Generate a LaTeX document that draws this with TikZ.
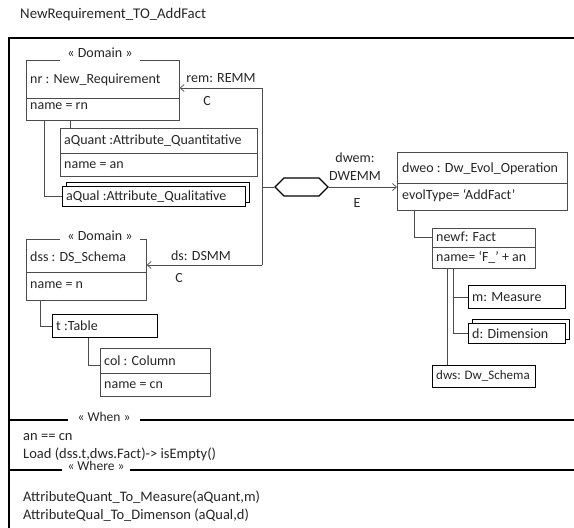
\documentclass[tikz,border=0pt]{standalone}
\usepackage{fontspec}
\setmainfont{Carlito}
\usetikzlibrary{arrows.meta,shapes.symbols}

\tikzset{
  obj/.style={draw=black!70, line width=0.7pt, anchor=north west, inner sep=0pt},
  objthick/.style={draw=black, line width=1.4pt, anchor=north west, inner sep=0pt, fill=white},
  txt/.style={anchor=west, inner sep=0pt, text=black!85, font=\fontsize{14}{16}\selectfont},
  small/.style={txt, font=\fontsize{14.5}{16}\selectfont},
  stereo/.style={fill=white, inner sep=0pt, minimum height=16pt, text=black!85, font=\fontsize{14}{16}\selectfont},
  link/.style={draw=black!70, line width=0.7pt},
  flow/.style={link, -{Straight Barb[length=4pt,width=7pt]}},
  frame/.style={draw=black, line width=1.5pt}
}

\begin{document}
\begin{tikzpicture}[x=1pt,y=-1pt]
\useasboundingbox (0,0) rectangle (574,528);

\node[txt, font=\fontsize{14.8}{17}\selectfont] (title) at (20,15) {NewRequirement\_TO\_AddFact};
\draw[frame] (574,38) -- (9,38) -- (9,528);

\node[obj, minimum width=153pt, minimum height=60pt] (nr) at (26,60) {};
\draw[link] ([yshift=-38pt]nr.north west) -- ([yshift=-38pt]nr.north east);
\node[stereo, minimum width=80pt] (dom1) at (100,53) {« Domain »};
\node[txt] (nrname) at (30,80) {nr : New\_Requirement};
\node[txt] (nrattr) at (30,106) {name = rn};

\node[obj, minimum width=197pt, minimum height=48pt] (aQuant) at (60,128) {};
\draw[link] ([yshift=-25pt]aQuant.north west) -- ([yshift=-25pt]aQuant.north east);
\node[txt] (aQuantname) at (64,141) {aQuant :Attribute\_Quantitative};
\node[txt] (aQuantattr) at (64,165) {name = an};

\node[objthick, minimum width=183pt, minimum height=20pt] (aQualback) at (66,182) {};
\node[objthick, minimum width=183pt, minimum height=20pt] (aQual) at (62,186) {};
\node[txt] (aQualname) at (66,197) {aQual :Attribute\_Qualitative};

\draw[link] ([xshift=44pt]nr.south west) -- ([xshift=10pt]aQuant.north west);
\draw[link] ([xshift=18pt]nr.south west) |- (aQual.west);

\node[obj, minimum width=120pt, minimum height=61pt] (dss) at (26,239) {};
\draw[link] ([yshift=-33pt]dss.north west) -- ([yshift=-33pt]dss.north east);
\node[stereo, minimum width=80pt] (dom2) at (100,236) {« Domain »};
\node[txt] (dssname) at (30,258) {dss : DS\_Schema};
\node[txt] (dssattr) at (30,285) {name = n};

\node[objthick, minimum width=105pt, minimum height=23pt] (tab) at (52,314) {};
\node[txt] (tabname) at (56,326) {t :Table};

\node[obj, minimum width=110pt, minimum height=48pt] (col) at (100,348) {};
\draw[link] ([yshift=-25pt]col.north west) -- ([yshift=-25pt]col.north east);
\node[txt] (colname) at (104,361) {col : Column};
\node[txt] (colattr) at (104,385) {name = cn};

\draw[link] ([xshift=14pt]dss.south west) |- (tab.west);
\draw[link] ([xshift=36pt]tab.south west) |- ([yshift=-17pt]col.north west);

\coordinate (remc) at (262,88);
\coordinate (opc) at (262,187);
\coordinate (dsc) at (262,265);
\draw[flow] (remc) -- (remc -| nr.east);
\draw[link] (remc) -- (dsc);
\draw[flow] (dsc) -- (dsc -| dss.east);
\node[txt, anchor=center] (remlbl) at (221,78) {rem: REMM};
\node[txt, anchor=center] (remc1) at (207,101) {C};
\node[txt, anchor=center] (dslbl) at (201,256) {ds: DSMM};
\node[txt, anchor=center] (dsc1) at (179,278) {C};

\node[draw=black, line width=1.4pt, signal, signal to=west and east, minimum width=53pt, minimum height=18pt, inner sep=0pt] (op) at (301.5,187) {};
\draw[link] (opc) -- (op.west);

\node[obj, minimum width=170pt, minimum height=58pt] (dweo) at (397,152) {};
\draw[link] ([yshift=-31pt]dweo.north west) -- ([yshift=-31pt]dweo.north east);
\node[txt] (dweoname) at (402,169) {dweo : Dw\_Evol\_Operation};
\node[txt] (dweoattr) at (402,196) {evolType= ‘AddFact’};
\draw[flow] (op.east) -- (op.east -| dweo.west);
\node[txt, anchor=center] (dwemlbl) at (355,158) {dwem:};
\node[txt, anchor=center] (dwemtype) at (355,176) {DWEMM};
\node[txt, anchor=center] (dweme) at (357,203) {E};

\node[obj, minimum width=103pt, minimum height=40pt] (newf) at (432,228) {};
\draw[link] ([yshift=-19pt]newf.north west) -- ([yshift=-19pt]newf.north east);
\node[txt] (newfname) at (436,237) {newf: Fact};
\node[txt] (newfattr) at (436,257) {name= ‘F\_’ + an};
\draw[link] ([xshift=17pt]dweo.south west) |- ([yshift=-9pt]newf.north west);

\node[objthick, minimum width=97pt, minimum height=23pt] (meas) at (468,285) {};
\node[txt] (measname) at (472,297) {m: Measure};

\node[objthick, minimum width=97pt, minimum height=20pt] (dimback) at (472,319) {};
\node[objthick, minimum width=97pt, minimum height=20pt] (dim) at (468,323) {};
\node[txt] (dimname) at (472,334) {d: Dimension};

\node[objthick, minimum width=103pt, minimum height=22pt] (dws) at (432,365) {};
\node[txt, font=\fontsize{13}{15}\selectfont] (dwsname) at (436,376) {dws: Dw\_Schema};

\draw[link] ([xshift=21pt]newf.south west) |- (meas.west);
\draw[link] ([xshift=21pt]newf.south west) |- (dim.west);
\draw[link] ([xshift=15pt]newf.south west) -- ([xshift=15pt]dws.north west);

\draw[frame] (9,420) -- (574,420);
\node[stereo, minimum width=72pt, font=\fontsize{13.5}{15}\selectfont] (when) at (104,417) {« When »};
\draw[frame] (9,470) -- (574,470);
\node[stereo, minimum width=68pt, minimum height=11pt, font=\fontsize{13.5}{15}\selectfont] (where) at (96,466) {« Where »};

\node[small] (cond1) at (23,437) {an == cn};
\node[small] (cond2) at (23,454) {Load (dss.t,dws.Fact)-> isEmpty()};
\node[small] (call1) at (23,497) {AttributeQuant\_To\_Measure(aQuant,m)};
\node[small] (call2) at (23,515) {AttributeQual\_To\_Dimenson (aQual,d)};
\end{tikzpicture}
\end{document}
